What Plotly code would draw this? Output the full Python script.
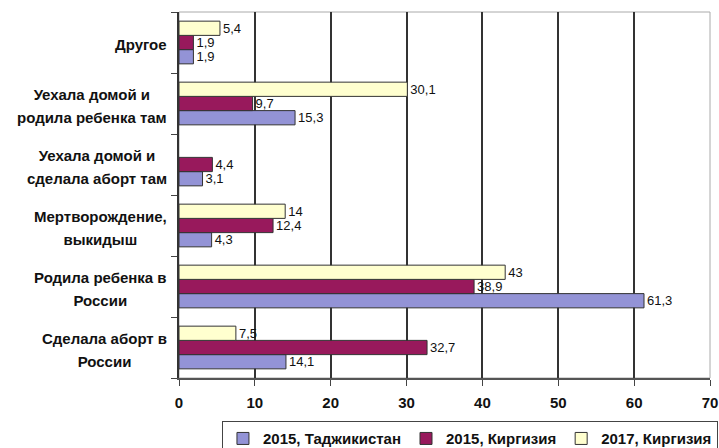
import plotly.graph_objects as go

categories = [
    "Сделала аборт в<br>России",
    "Родила ребенка в<br>России",
    "Мертворождение,<br>выкидыш",
    "Уехала домой и<br>сделала аборт там",
    "Уехала домой и<br>родила ребенка там",
    "Другое",
]
series_names = ["2015, Таджикистан", "2015, Киргизия", "2017, Киргизия"]
tajik_2015 = [14.1, 61.3, 4.3, 3.1, 15.3, 1.9]
kyrg_2015 = [32.7, 38.9, 12.4, 4.4, 9.7, 1.9]
kyrg_2017 = [7.5, 43, 14, None, 30.1, 5.4]
x_ticks = [0, 10, 20, 30, 40, 50, 60, 70]

colors = ["#9393d6", "#98195c", "#ffffcf"]
FONT = "Liberation Sans, Arial"


def fmt(v):
    if v is None:
        return ""
    return ("%g" % v).replace(".", ",")


fig = go.Figure()
for name, vals, col in zip(series_names, [tajik_2015, kyrg_2015, kyrg_2017], colors):
    fig.add_trace(go.Bar(
        y=categories, x=vals, name=name, orientation="h",
        marker=dict(color=col, line=dict(color="#333333", width=1)),
        text=[fmt(v) for v in vals], textposition="outside",
        constraintext="none",
        textfont=dict(family=FONT, size=13, color="#111111"),
        cliponaxis=False,
    ))

# category labels, centred multi-line like the original
for c in categories:
    lines = c.split("<br>")
    txt = "<br>".join('<span style="font-size:15px">%s</span>' % l for l in lines)
    fig.add_annotation(
        xref="paper", yref="y", x=0, y=c, xshift=-10, yshift=-2, xanchor="right",
        yanchor="middle", align="center", showarrow=False, text=txt,
        font=dict(family=FONT, size=18, color="#111111", weight="bold"),
    )

fig.update_layout(
    width=719, height=448,
    margin=dict(l=179, r=9, t=12, b=70, autoexpand=False),
    barmode="group", bargap=0.3, bargroupgap=0,
    plot_bgcolor="white", paper_bgcolor="white",
    font=dict(family=FONT, size=14, color="#111111"),
    showlegend=True,
    legend=dict(
        orientation="h", traceorder="normal",
        x=1.015, xanchor="right", y=-0.118, yanchor="top",
        bordercolor="#444444", borderwidth=1,
        font=dict(family=FONT, size=15, color="#111111", weight="bold"),
        itemwidth=30, tracegroupgap=0,
    ),
)
fig.update_xaxes(
    range=[0, 70], tickvals=x_ticks, ticktext=[str(t) for t in x_ticks],
    showgrid=True, gridcolor="#333333", gridwidth=1.5,
    zeroline=False, showline=True, linecolor="#555555", linewidth=1.5,
    ticks="outside", ticklen=6, tickcolor="#444444",
    tickfont=dict(family=FONT, size=15, weight="bold", color="#111111"),
    ticklabelstandoff=4,
)
fig.update_yaxes(
    type="category", showgrid=False, zeroline=False, showticklabels=False,
    showline=True, linecolor="#333333", linewidth=1.5,
    ticks="outside", ticklen=6, tickcolor="#444444", tickson="boundaries",
)
fig.add_shape(type="rect", xref="paper", yref="paper", x0=0, x1=1, y0=0, y1=1,
              line=dict(color="#aaaaaa", width=1), layer="below")

fig.write_html("out.html", config={"displayModeBar": False},
               post_script="document.body.style.margin='0';")
